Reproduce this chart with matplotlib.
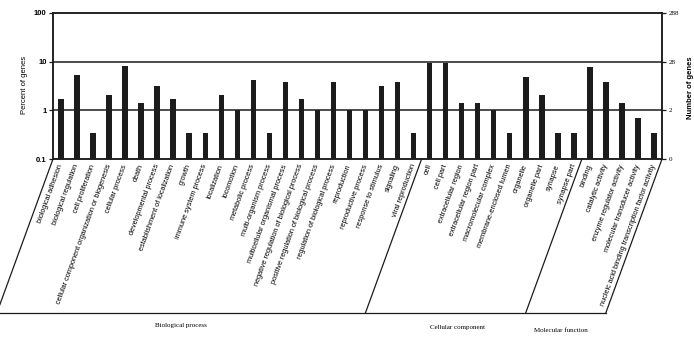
import matplotlib
matplotlib.use('Agg')
import matplotlib.pyplot as plt
from matplotlib.lines import Line2D
from matplotlib.ticker import NullLocator

# ---------------- data ----------------
bp_categories = [
    "biological adhesion", "biological regulation", "cell proliferation",
    "cellular component organization or biogenesis", "cellular process", "death",
    "developmental process", "establishment of localization", "growth",
    "immune system process", "localization", "locomotion", "metabolic process",
    "multi-organism process", "multicellular organismal process",
    "negative regulation of biological process",
    "positive regulation of biological process",
    "regulation of biological process", "reproduction", "reproductive process",
    "response to stimulus", "signaling", "viral reproduction",
]
bp_values = [1.74, 5.2, 0.35, 2.08, 8.3, 1.39, 3.13, 1.74, 0.35, 0.35, 2.08, 1.04,
             4.17, 0.35, 3.82, 1.74, 1.04, 3.82, 1.04, 1.04, 3.13, 3.82, 0.35]

cc_categories = [
    "cell", "cell part", "extracellular region", "extracellular region part",
    "macromolecular complex", "membrane-enclosed lumen", "organelle",
    "organelle part", "synapse", "synapse part",
]
cc_values = [9.4, 9.4, 1.39, 1.39, 1.04, 0.35, 4.86, 2.08, 0.35, 0.35]

mf_categories = [
    "binding", "catalytic activity", "enzyme regulator activity",
    "molecular transducer activity",
    "nucleic acid binding transcription factor activity",
]
mf_values = [7.6, 3.82, 1.39, 0.69, 0.35]

group_names = ["Biological process", "Cellular component", "Molecular function"]
left_ticks = [0.1, 1, 10, 100]
left_tick_labels = ["0.1", "1", "10", "100"]
right_tick_labels = ["0", "2", "28", "288"]

# ---------------- figure ----------------
W, H = 694, 337
fig = plt.figure(figsize=(W / 100, H / 100), dpi=100)
ax = fig.add_axes([53 / W, 1 - 159 / H, (662 - 53) / W, (159 - 13) / H])

categories = bp_categories + cc_categories + mf_categories
values = bp_values + cc_values + mf_values
groups = [bp_categories, cc_categories, mf_categories]
n = len(categories)
xs = list(range(n))

ink = "#1c1c1c"
ax.set_yscale("log")
ax.set_ylim(0.1, 100)
ax.set_xlim(-0.5, n - 0.5)
ax.bar(xs, values, width=0.34, color=ink, zorder=3)

for t in [1, 10]:
    ax.axhline(t, color=ink, lw=1.1, zorder=2)

for s in ax.spines.values():
    s.set_color(ink)
    s.set_linewidth(1.1)

ax.set_yticks(left_ticks)
ax.set_yticklabels(left_tick_labels, fontsize=5.5, fontweight="bold",
                   family="Liberation Sans")
ax.yaxis.set_minor_locator(NullLocator())
ax.tick_params(axis="y", length=3, width=0.9, pad=1.5, color=ink)

ax.set_xticks(xs)
ax.set_xticklabels(categories, rotation=70, ha="right", va="center",
                   rotation_mode="anchor", fontsize=5.3, family="Liberation Sans")
ax.tick_params(axis="x", length=0, pad=4)

ax.set_ylabel("Percent of genes", fontsize=5.5, family="Liberation Sans")
ax.yaxis.set_label_coords(-0.041, 0.507)

ax2 = ax.twinx()
ax2.set_yscale("log")
ax2.set_ylim(ax.get_ylim())
ax2.set_yticks(left_ticks)
ax2.set_yticklabels(right_tick_labels, fontsize=5, family="Liberation Serif")
ax2.yaxis.set_minor_locator(NullLocator())
ax2.tick_params(axis="y", length=3, width=0.9, pad=2, color=ink)
for s in ax2.spines.values():
    s.set_color(ink)
    s.set_linewidth(1.1)
ax2.set_ylabel("Number of genes", fontsize=5.5, fontweight="bold",
               family="Liberation Sans")
ax2.yaxis.set_label_coords(1.041, 0.486)

# ---------------- group parallelograms ----------------
bounds = [-0.5]
for g in groups:
    bounds.append(bounds[-1] + len(g))

slope = 0.365          # horizontal shift per pixel of drop
drop = 154             # pixels from axis bottom to the baseline
bottom_pts = []
for b in bounds:
    X, Y = ax.transData.transform((b, 0.1))
    X2, Y2 = X - slope * drop, Y - drop
    fig.add_artist(Line2D([X / W, X2 / W], [Y / H, Y2 / H],
                          transform=fig.transFigure, color=ink, lw=0.9))
    bottom_pts.append((X2, Y2))

fig.add_artist(Line2D([bottom_pts[0][0] / W, bottom_pts[-1][0] / W],
                      [bottom_pts[0][1] / H, bottom_pts[-1][1] / H],
                      transform=fig.transFigure, color=ink, lw=0.9))

label_y = [325, 328, 331]
nudges = [0, 12, -5]
for i, name in enumerate(group_names):
    cx = (bottom_pts[i][0] + bottom_pts[i + 1][0]) / 2 + nudges[i]
    fig.text(cx / W, 1 - label_y[i] / H, name, ha="center", va="center",
             fontsize=5, family="Liberation Serif")

fig.savefig("out.png", dpi=100)
